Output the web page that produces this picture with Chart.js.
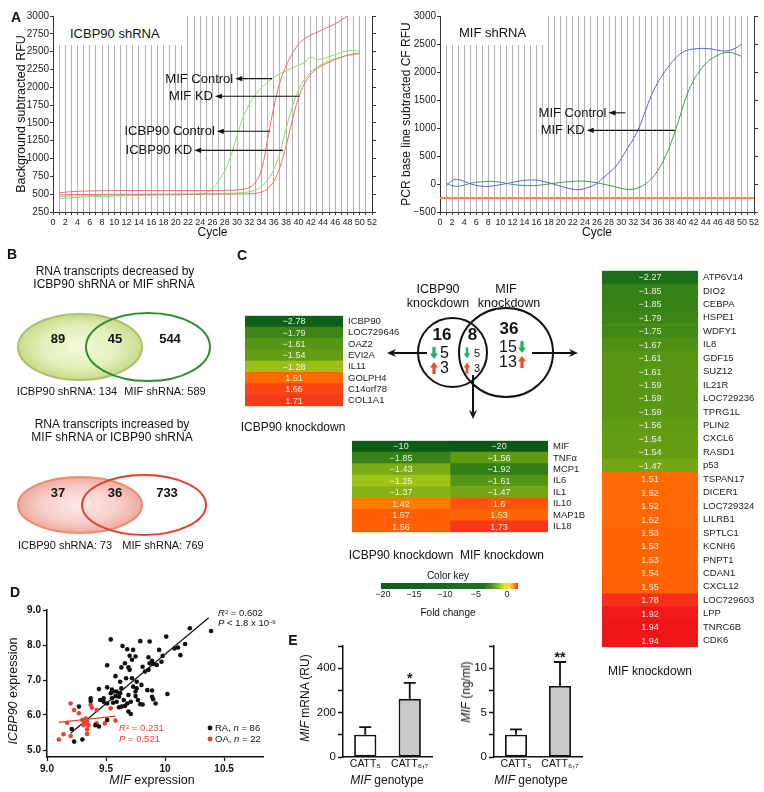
<!DOCTYPE html>
<html>
<head>
<meta charset="utf-8">
<title>ICBP90 / MIF figure</title>
<script src="https://cdn.jsdelivr.net/npm/chart.js@4.4.1/dist/chart.umd.min.js"></script>
<style>
html,body{margin:0;padding:0;background:#fff;}
#page{position:relative;width:764px;height:792px;overflow:hidden;font-family:'Liberation Sans',Arial,Helvetica,sans-serif;color:#111;}
#page canvas{position:absolute;}
.t{position:absolute;white-space:nowrap;line-height:1;}
.c{transform:translate(-50%,-50%);}
.l{transform:translate(0,-50%);}
.rot{transform:translate(-50%,-50%) rotate(-90deg);}
.letter{font-weight:bold;font-size:14px;}
.box{position:absolute;background:#fff;}
sup{font-size:0.62em;vertical-align:0.45em;line-height:0;}
</style>
</head>
<body>
<div id="page"></div>
<script>
// ================= DATA =================
// Panel A: qPCR amplification curves (cycle vs RFU)
const cycles = [1,2,3,4,5,6,7,8,9,10,11,12,13,14,15,16,17,18,19,20,21,22,23,24,25,26,27,28,29,30,31,32,33,34,35,36,37,38,39,40,41,42,43,44,45,46,47,48,49,50];
// ICBP90 shRNA plate
const mifCtrlL  = [440,445,450,455,460,463,466,469,472,475,477,479,481,483,485,486,487,488,489,490,492,494,497,505,525,580,690,830,1040,1320,1580,1760,1900,1995,2070,2140,2190,2230,2270,2310,2350,2420,2390,2400,2430,2460,2490,2510,2515,2510];
const mifKdL    = [470,472,474,476,478,480,482,484,486,488,489,490,491,492,493,494,495,496,497,498,499,500,501,502,504,506,508,511,514,518,524,535,560,610,700,850,1080,1420,1720,1960,2110,2210,2280,2330,2370,2400,2425,2445,2455,2460];
const icbpCtrlL = [520,528,535,540,543,545,547,548,549,550,551,552,552,552,552,551,550,550,550,550,550,550,550,550,550,551,552,553,555,560,570,595,665,850,1280,1720,2070,2300,2470,2600,2680,2730,2770,2810,2850,2890,2945,3000,null,null];
const icbpKdL   = [490,492,494,495,496,497,497,498,498,499,499,499,500,500,500,500,500,500,500,500,500,500,500,500,500,500,501,501,502,502,503,506,512,530,580,680,880,1180,1530,1850,2050,2180,2260,2310,2350,2390,2420,2450,2470,2480];
// MIF shRNA plate
const mifCtrlR  = [-40,60,80,45,5,-25,-40,-42,-30,-12,8,28,50,65,72,68,50,22,-8,-40,-70,-92,-100,-80,-40,10,110,200,300,450,630,800,1020,1300,1580,1800,1970,2120,2250,2340,2390,2410,2420,2420,2410,2390,2375,2385,2430,2500];
const mifKdR    = [20,-30,-40,-20,10,30,40,48,45,30,10,-8,-20,-28,-30,-25,-15,0,15,28,38,48,52,48,38,22,0,-25,-50,-75,-95,-90,-60,0,90,230,420,660,960,1300,1620,1850,2020,2150,2240,2300,2340,2350,2320,2280];
const thresholdR = -250;

// Panel B: Venn counts
const vennSetNames = ['ICBP90 shRNA','MIF shRNA'];
const vennDownCounts = [89,45,544];
const vennDownTotals = [134,589];
const vennUpCounts = [37,36,733];
const vennUpTotals = [73,769];

// Panel C: knockdown Venn + heatmaps (fold change)
const knockTotals = [16,8,36];
const knockDown = [5,5,15];
const knockUp = [3,3,13];
const icbpGenes = ['ICBP90','LOC729646','OAZ2','EVI2A','IL11','GOLPH4','C14orf78','COL1A1'];
const icbpFold  = [-2.78,-1.79,-1.61,-1.54,-1.28,1.51,1.66,1.71];
const sharedGenes = ['MIF','TNF\u03B1','MCP1','IL6','IL1','IL10','MAP1B','IL18'];
const sharedIcbpFold = [-10,-1.85,-1.43,-1.25,-1.37,1.42,1.57,1.56];
const sharedMifFold  = [-20,-1.56,-1.92,-1.61,-1.47,1.6,1.53,1.73];
const mifGenes = ['ATP6V14','DIO2','CEBPA','HSPE1','WDFY1','IL8','GDF15','SUZ12','IL21R','LOC729236','TPRG1L','PLIN2','CXCL6','RASD1','p53','TSPAN17','DICER1','LOC729324','LILRB1','SPTLC1','KCNH6','PNPT1','CDAN1','CXCL12','LOC729603','LPP','TNRC6B','CDK6'];
const mifFold  = [-2.27,-1.85,-1.85,-1.79,-1.75,-1.67,-1.61,-1.61,-1.59,-1.59,-1.59,-1.56,-1.54,-1.54,-1.47,1.51,1.52,1.52,1.52,1.53,1.53,1.53,1.54,1.55,1.78,1.92,1.94,1.94];
const keyRange = [-20.3, 1.77];
const keyTicks = [-20,-15,-10,-5,0];

// Panel D: expression scatter
const raMIF = [9.54,9.64,9.68,9.73,9.79,9.87,10.01,10.21,10.39,10.17,10.11,10.08,10.13,9.95,9.98,9.75,9.70,9.86,9.89,9.90,9.87,9.93,9.97,9.66,9.69,9.51,9.81,9.86,9.83,9.58,9.67,9.72,9.76,9.62,9.76,9.80,9.73,9.85,9.89,9.75,9.69,9.59,9.56,9.54,9.58,9.61,9.48,9.45,9.44,9.48,9.56,9.61,9.66,9.68,9.71,9.75,9.77,9.79,9.81,9.65,9.89,9.90,9.92,10.02,9.69,9.71,9.63,9.37,9.37,9.51,9.27,9.51,9.44,9.41,9.21,9.30,9.23,9.59,9.55,9.51,9.55,9.63,9.70,9.72,9.63,9.62];
const raICBP90 = [8.16,7.97,7.88,7.86,8.11,8.10,8.24,8.48,8.40,8.03,7.93,7.90,7.71,7.86,7.69,7.67,7.69,7.65,7.55,7.46,7.48,7.43,7.52,7.48,7.36,7.42,7.38,7.29,7.24,7.11,7.05,7.05,6.95,6.95,6.76,6.86,6.81,6.71,6.70,6.67,6.57,6.67,6.67,6.62,6.54,6.52,6.48,6.43,6.74,6.38,6.35,6.22,6.26,6.33,6.38,6.54,6.43,6.31,6.30,6.43,6.52,6.45,6.33,6.60,6.10,6.03,6.24,6.48,6.40,6.33,6.24,5.86,5.67,5.71,5.60,5.30,5.24,6.38,6.48,6.79,6.73,6.76,7.29,7.58,7.36,6.62];
const oaMIF = [9.20,9.23,9.27,9.37,9.38,9.42,9.30,9.32,9.34,9.33,9.35,9.34,9.34,9.17,9.20,9.14,9.10,9.42,9.54,9.49,9.58,9.31];
const oaICBP90 = [6.33,6.14,6.05,6.29,6.21,6.14,5.86,5.76,5.83,5.90,5.71,5.59,5.46,5.78,5.40,5.45,5.30,5.76,6.19,5.76,5.84,5.71];
const raFitX = [9.20,10.37], raFitY = [5.48,8.78];
const oaFitX = [9.10,9.58], oaFitY = [5.79,5.97];
const dXTicks = [9.0,9.5,10,10.5], dXLabels = ['9.0','9.5','10','10.5'];
const dYTicks = [5,6,7,8,9], dYLabels = ['5.0','6.0','7.0','8.0','9.0'];

// Panel E: genotype bars
const genotypes = ['CATT\u2085','CATT\u2086,\u2087'];
const mrnaMean = [100,262], mrnaErr = [35,72], mrnaSig = ['','*'];
const serumMean = [2.5,8.0], serumErr = [0.6,2.7], serumSig = ['','**'];

// ================= HELPERS =================
const FONT = "'Liberation Sans', Arial, Helvetica, sans-serif";
Chart.defaults.font.family = FONT;
Chart.defaults.color = '#111';
Chart.defaults.animation = false;
Chart.defaults.responsive = false;
Chart.defaults.plugins.legend.display = false;
Chart.defaults.plugins.tooltip.enabled = false;

const page = document.getElementById('page');
function mkCanvas(l,t,w,h){
  const c = document.createElement('canvas');
  c.width = w; c.height = h;
  c.style.left = l+'px'; c.style.top = t+'px'; c.style.width = w+'px'; c.style.height = h+'px';
  page.appendChild(c); return c;
}
function txt(html,x,y,cls,css){
  const d = document.createElement('div');
  d.className = 't ' + (cls || 'c');
  d.style.left = x+'px'; d.style.top = y+'px';
  if (css) d.style.cssText += css;
  d.innerHTML = html; page.appendChild(d); return d;
}
function box(l,t,w,h){
  const d = document.createElement('div'); d.className='box';
  d.style.left=l+'px'; d.style.top=t+'px'; d.style.width=w+'px'; d.style.height=h+'px';
  page.appendChild(d);
}
const fmt = v => (v < 0 ? '\u2212' : '') + String(Math.abs(v));
const xy = (xs, ys) => xs.map((x,i) => ({x, y: ys[i]}));
const fixW = w => s => { s.width = w; };
const fixH = h => s => { s.height = h; };

function heatColor(v){
  const stops = [[-20,[12,88,24]],[-2.8,[14,96,26]],[-2.2,[30,112,24]],[-1.8,[58,132,22]],[-1.6,[88,150,20]],[-1.5,[108,162,20]],[-1.4,[128,174,20]],[-1.25,[160,196,22]],
                 [1.4,[255,128,0]],[1.5,[255,108,0]],[1.56,[255,95,5]],[1.62,[252,80,15]],[1.7,[246,60,25]],[1.8,[244,45,25]],[1.95,[238,20,25]]];
  const grp = stops.filter(s => (v < 0) === (s[0] < 0));
  if (v <= grp[0][0]) return 'rgb('+grp[0][1].join(',')+')';
  for (let i=1;i<grp.length;i++){
    if (v <= grp[i][0]){
      const a = grp[i-1], b = grp[i], f = (v-a[0])/(b[0]-a[0]);
      return 'rgb('+a[1].map((c,k)=>Math.round(c+(b[1][k]-c)*f)).join(',')+')';
    }
  }
  return 'rgb('+grp[grp.length-1][1].join(',')+')';
}

// arrow annotations for qPCR plots
const arrowPlugin = {
  id:'arrows',
  afterDatasetsDraw(chart, args, opts){
    const {ctx} = chart, x = chart.scales.x, y = chart.scales.y;
    (opts.items||[]).forEach(a => {
      const x1 = x.getPixelForValue(a.from), x2 = x.getPixelForValue(a.to), yy = y.getPixelForValue(a.y);
      ctx.save();
      ctx.strokeStyle = '#111'; ctx.fillStyle = '#111'; ctx.lineWidth = 1.1;
      ctx.beginPath(); ctx.moveTo(x1, yy); ctx.lineTo(x2+5, yy); ctx.stroke();
      ctx.beginPath(); ctx.moveTo(x2, yy); ctx.lineTo(x2+7, yy-2.6); ctx.lineTo(x2+7, yy+2.6); ctx.closePath(); ctx.fill();
      ctx.font = '13px ' + FONT; ctx.textAlign = 'right'; ctx.textBaseline = 'middle';
      ctx.fillText(a.text, x2-2, yy+0.5);
      ctx.restore();
    });
  }
};

function qpcr(canvas, o){
  return new Chart(canvas, {
    type:'line',
    data:{datasets:o.datasets},
    options:{
      layout:{padding:{left:o.padLeft, top:16, right:o.padRight, bottom:0}},
      scales:{
        x:{type:'linear', min:0, max:52,
           ticks:{stepSize:1, autoSkip:false, maxRotation:0, font:{size:9}, padding:2, color:'#222', callback:v => (v%2===0 ? String(v) : '')},
           grid:{color:'rgba(0,0,0,0.3)', lineWidth:1, tickLength:3, tickColor:'#444'},
           border:{color:'#333', width:1},
           title:{display:true, text:'Cycle', font:{size:12}, padding:{top:0,bottom:0}, color:'#111'},
           afterFit:fixH(28)},
        y:{min:o.ymin, max:o.ymax,
           ticks:{stepSize:o.ystep, font:{size:10}, padding:1, color:'#222', callback:v => String(v).replace('-', '\u2212')},
           grid:{drawOnChartArea:false, tickLength:3, tickColor:'#333'},
           border:{color:'#333', width:1},
           title:{display:true, text:o.title, font:{size:o.titleSize}, padding:{top:0,bottom:0}, color:'#111'},
           afterFit:fixW(o.yW)},
        yR:{position:'right', min:o.ymin, max:o.ymax,
           ticks:{display:false, stepSize:o.ystep},
           grid:{drawOnChartArea:false, tickLength:4, tickColor:'#333'},
           border:{color:'#333', width:1},
           afterFit:fixW(4)}
      },
      plugins:{arrows:{items:o.arrows}}
    },
    plugins:[arrowPlugin]
  });
}
const curve = (ys, color, lw) => ({data: xy(cycles, ys), borderColor: color, borderWidth: lw || 1, pointRadius: 0, tension: 0.4, fill: false});

// ================= PANEL A =================
const RED = '#e8706a', LGREEN = '#8ad96c';
qpcr(mkCanvas(0,0,380,240), {
  ymin:250, ymax:3000, ystep:250, title:'Background subtracted RFU', titleSize:12.5, padLeft:14, yW:39, padRight:4,
  datasets:[curve(icbpCtrlL,RED), curve(icbpKdL,RED), curve(mifCtrlL,LGREEN), curve(mifKdL,LGREEN)],
  arrows:[
    {text:'MIF Control', from:35.7, to:29.7, y:2121},
    {text:'MIF KD', from:40.2, to:26.4, y:1873},
    {text:'ICBP90 Control', from:35.4, to:26.7, y:1382},
    {text:'ICBP90 KD', from:37.5, to:23.0, y:1115}
  ]
});
qpcr(mkCanvas(382,0,382,240), {
  ymin:-500, ymax:3000, ystep:500, title:'PCR base line subtracted CF RFU', titleSize:12, padLeft:17, yW:41, padRight:6,
  datasets:[
    {data:[{x:0,y:thresholdR},{x:52,y:thresholdR}], borderColor:'#f6884e', borderWidth:2, pointRadius:0},
    curve(mifKdR,'#3f9a45'), curve(mifCtrlR,'#5a5ae6')
  ],
  arrows:[
    {text:'MIF Control', from:30.7, to:27.9, y:1271},
    {text:'MIF KD', from:38.9, to:24.3, y:958}
  ]
});
box(54,16,129,29); txt('ICBP90 shRNA', 70, 33, 'l', 'font-size:13px;');
box(441,16,104,29); txt('MIF shRNA', 459, 32, 'l', 'font-size:13px;');

// ================= PANEL C heatmaps =================
const cellText = {
  id:'cellText',
  afterDatasetsDraw(chart){
    const ctx = chart.ctx;
    chart.data.datasets.forEach((ds,di) => {
      chart.getDatasetMeta(di).data.forEach((bar,i) => {
        const p = bar.getProps(['x','y','base'], true);
        ctx.save();
        ctx.fillStyle = 'rgba(255,255,255,0.9)'; ctx.font = '9px ' + FONT;
        ctx.textAlign = 'center'; ctx.textBaseline = 'middle';
        ctx.fillText(fmt(ds.values[i]), (p.x + p.base)/2, p.y + 0.5);
        ctx.restore();
      });
    });
  }
};
function heat(canvas, genes, cols, labelW){
  return new Chart(canvas, {
    type:'bar',
    data:{labels:genes, datasets:cols.map((vals,ci) => ({
      data: vals.map(() => [ci, ci+1]), values: vals,
      backgroundColor: vals.map(heatColor), borderWidth:0,
      barPercentage:1, categoryPercentage:1, grouped:false
    }))},
    options:{
      indexAxis:'y',
      layout:{padding:0},
      scales:{
        x:{display:false, min:0, max:cols.length},
        y:{position:'right', grid:{drawOnChartArea:false, drawTicks:false}, border:{display:false},
           ticks:{font:{size:9.5}, color:'#222', padding:5, autoSkip:false}, afterFit:fixW(labelW)}
      }
    },
    plugins:[cellText]
  });
}
heat(mkCanvas(245,305,163,112), icbpGenes, [icbpFold], 65);
heat(mkCanvas(352,430,240,113), sharedGenes, [sharedIcbpFold, sharedMifFold], 44);
heat(mkCanvas(602,260,162,398), mifGenes, [mifFold], 66);

// colour key
new Chart(mkCanvas(370,578,155,24), {
  type:'bar',
  data:{labels:['key'], datasets:[{
    data:[keyRange], borderWidth:0, barPercentage:1, categoryPercentage:1,
    backgroundColor:(c) => {
      const ca = c.chart.chartArea; if (!ca) return '#2a7a20';
      const g = c.chart.ctx.createLinearGradient(ca.left,0,ca.right,0);
      g.addColorStop(0,'#0d5c1a'); g.addColorStop(0.74,'#1f7420'); g.addColorStop(0.8,'#3a8e22');
      g.addColorStop(0.86,'#8cc21e'); g.addColorStop(0.905,'#e8e82a'); g.addColorStop(0.94,'#ffd83a');
      g.addColorStop(0.97,'#ff9020'); g.addColorStop(1,'#ff3020');
      return g;
    }
  }]},
  options:{
    indexAxis:'y', layout:{padding:{left:11,right:7,top:5,bottom:0}},
    scales:{
      x:{type:'linear', min:keyRange[0], max:keyRange[1], afterBuildTicks:s => { s.ticks = keyTicks.map(v => ({value:v})); },
         ticks:{font:{size:9}, padding:0, color:'#222', callback:v => fmt(v)},
         grid:{display:false, drawTicks:false, tickLength:0}, border:{display:false}, afterFit:fixH(13)},
      y:{display:false}
    }
  }
});

// ================= PANEL D =================
const dLegend = {
  id:'dLegend',
  afterDraw(chart, a, opts){
    const ctx = chart.ctx;
    opts.items.forEach(it => { ctx.beginPath(); ctx.arc(it.x, it.y, 2.4, 0, Math.PI*2); ctx.fillStyle = it.color; ctx.fill(); });
  }
};
const OA_RED = '#e8432c';
new Chart(mkCanvas(0,595,280,197), {
  type:'scatter',
  data:{datasets:[
    {data:xy(raMIF, raICBP90), backgroundColor:'#111', borderWidth:0, pointRadius:2.3},
    {data:xy(oaMIF, oaICBP90), backgroundColor:OA_RED, borderWidth:0, pointRadius:2.3},
    {type:'line', data:xy(raFitX, raFitY), borderColor:'#111', borderWidth:1.2, pointRadius:0},
    {type:'line', data:xy(oaFitX, oaFitY), borderColor:OA_RED, borderWidth:1.2, pointRadius:0}
  ]},
  options:{
    layout:{padding:{left:0, top:15, right:17, bottom:0}},
    scales:{
      x:{type:'linear', min:9.0, max:10.83, afterBuildTicks:s => { s.ticks = dXTicks.map(v => ({value:v})); },
         ticks:{font:{size:10, weight:'bold'}, color:'#111', padding:2, callback:(v,i) => dXLabels[i]},
         grid:{drawOnChartArea:false, tickLength:4, tickColor:'#111', tickWidth:1.2},
         border:{color:'#111', width:1.5}, afterFit:fixH(35)},
      y:{type:'linear', min:4.8, max:9.0, afterBuildTicks:s => { s.ticks = dYTicks.map(v => ({value:v})); },
         ticks:{font:{size:10, weight:'bold'}, color:'#111', padding:2, callback:(v,i) => dYLabels[i]},
         grid:{drawOnChartArea:false, tickLength:4, tickColor:'#111', tickWidth:1.2},
         border:{color:'#111', width:1.5}, afterFit:fixW(47)}
    },
    plugins:{dLegend:{items:[{x:210, y:133, color:'#111'},{x:210, y:144, color:OA_RED}]}}
  },
  plugins:[dLegend]
});

// ================= PANEL E =================
const errPlugin = {
  id:'err',
  afterDatasetsDraw(chart){
    const ctx = chart.ctx, ds = chart.data.datasets[0], ys = chart.scales.y;
    chart.getDatasetMeta(0).data.forEach((bar,i) => {
      const top = ys.getPixelForValue(ds.data[i] + ds.err[i]);
      ctx.save(); ctx.strokeStyle = '#111'; ctx.lineWidth = 1.8;
      ctx.beginPath(); ctx.moveTo(bar.x, bar.y); ctx.lineTo(bar.x, top);
      ctx.moveTo(bar.x-6, top); ctx.lineTo(bar.x+6, top); ctx.stroke();
      if (ds.sig[i]) {
        ctx.fillStyle = '#111'; ctx.font = 'bold 14px ' + FONT; ctx.textAlign = 'center'; ctx.textBaseline = 'bottom';
        ctx.fillText(ds.sig[i], bar.x, top + 3);
      }
      ctx.restore();
    });
  }
};
function genoBar(canvas, mean, err, sig, max, step, labelStep, yW){
  return new Chart(canvas, {
    type:'bar',
    data:{labels:genotypes, datasets:[{data:mean, err, sig, backgroundColor:['#ffffff','#c9c9c9'],
      borderColor:'#111', borderWidth:1.8, borderSkipped:false, barPercentage:0.5, categoryPercentage:1}]},
    options:{
      layout:{padding:{left:0, top:11, right:8, bottom:0}},
      scales:{
        x:{grid:{drawOnChartArea:false, drawTicks:false}, border:{color:'#111', width:1.5},
           ticks:{font:{size:10.5}, color:'#111', padding:1}, afterFit:fixH(35)},
        y:{min:0, max:max, ticks:{stepSize:step, font:{size:11.5}, color:'#111', padding:2,
             callback:v => (Math.abs(v/labelStep - Math.round(v/labelStep)) < 1e-9 ? String(v) : '')},
           grid:{drawOnChartArea:false, tickLength:5, tickColor:'#111', tickWidth:1.5},
           border:{color:'#111', width:1.5}, afterFit:fixW(yW)}
      }
    },
    plugins:[errPlugin]
  });
}
genoBar(mkCanvas(290,635,150,157), mrnaMean, mrnaErr, mrnaSig, 500, 100, 200, 53);
genoBar(mkCanvas(440,635,150,157), serumMean, serumErr, serumSig, 12.5, 2.5, 5, 54);

// ================= PANELS B + C diagrams (overlay) =================
function blockArrow(ctx, cx, cy, up, color, w, h){
  const hw = w/2, sw = w*0.2, s = up ? -1 : 1;
  const tip = cy + s*h/2, base = cy - s*h/2, neck = tip - s*h*0.45;
  ctx.save(); ctx.fillStyle = color; ctx.beginPath();
  ctx.moveTo(cx-sw, base); ctx.lineTo(cx+sw, base); ctx.lineTo(cx+sw, neck); ctx.lineTo(cx+hw, neck);
  ctx.lineTo(cx, tip); ctx.lineTo(cx-hw, neck); ctx.lineTo(cx-sw, neck); ctx.closePath(); ctx.fill(); ctx.restore();
}
function lineArrow(ctx, x1, y1, x2, y2, lw, head){
  const a = Math.atan2(y2-y1, x2-x1), c = Math.cos(a), s = Math.sin(a);
  ctx.save(); ctx.strokeStyle = '#111'; ctx.fillStyle = '#111'; ctx.lineWidth = lw;
  ctx.beginPath(); ctx.moveTo(x1, y1); ctx.lineTo(x2 - c*head*0.7, y2 - s*head*0.7); ctx.stroke();
  ctx.beginPath(); ctx.moveTo(x2, y2);
  ctx.lineTo(x2 - head*c + head*0.45*s, y2 - head*s - head*0.45*c);
  ctx.lineTo(x2 - head*0.7*c, y2 - head*0.7*s);
  ctx.lineTo(x2 - head*c - head*0.45*s, y2 - head*s + head*0.45*c);
  ctx.closePath(); ctx.fill(); ctx.restore();
}
const diagramPlugin = {
  id:'diagram',
  afterDraw(chart, args, o){
    const ctx = chart.ctx, sx = chart.scales.x, sy = chart.scales.y;
    const X = v => sx.getPixelForValue(v), Y = v => sy.getPixelForValue(v);
    const RX = (c,r) => Math.abs(X(c+r) - X(c)), RY = (c,r) => Math.abs(Y(c+r) - Y(c));
    // Panel B Venns
    o.vennB.forEach(v => {
      const L = v.L, R = v.R;
      const lrx = RX(L.cx, L.rx), lry = RY(v.cy, L.ry);
      ctx.save(); ctx.translate(X(L.cx), Y(v.cy)); ctx.scale(1, lry/lrx);
      const g = ctx.createRadialGradient(0,0,0,0,0,lrx);
      g.addColorStop(0, L.fill[0]); g.addColorStop(0.62, L.fill[1]); g.addColorStop(1, L.fill[2]);
      ctx.fillStyle = g; ctx.beginPath(); ctx.arc(0,0,lrx,0,Math.PI*2); ctx.fill(); ctx.restore();
      ctx.save(); ctx.lineWidth = 2;
      ctx.strokeStyle = L.stroke; ctx.beginPath(); ctx.ellipse(X(L.cx), Y(v.cy), lrx, lry, 0, 0, Math.PI*2); ctx.stroke();
      ctx.strokeStyle = R.stroke; ctx.beginPath(); ctx.ellipse(X(R.cx), Y(v.cy), RX(R.cx,R.rx), RY(v.cy,R.ry), 0, 0, Math.PI*2); ctx.stroke();
      ctx.fillStyle = '#111'; ctx.textAlign = 'center'; ctx.textBaseline = 'middle';
      ctx.font = 'bold 13px ' + FONT;
      v.counts.forEach((c,i) => ctx.fillText(String(c), X(v.numX[i]), Y(v.numY)));
      ctx.font = '11px ' + FONT;
      v.totals.forEach((t,i) => ctx.fillText(vennSetNames[i] + ': ' + t, X(v.totX[i]), Y(v.totY)));
      ctx.restore();
    });
    // Panel C Venn
    const vc = o.vennC;
    ctx.save(); ctx.strokeStyle = '#111'; ctx.lineWidth = 2;
    vc.circles.forEach(c => { ctx.beginPath(); ctx.ellipse(X(c.cx), Y(c.cy), RX(c.cx,c.rx), RY(c.cy,c.ry), 0, 0, Math.PI*2); ctx.stroke(); });
    ctx.fillStyle = '#111'; ctx.textAlign = 'center'; ctx.textBaseline = 'middle';
    ctx.font = 'bold 17px ' + FONT;
    knockTotals.forEach((t,i) => ctx.fillText(String(t), X(vc.totPos[i][0]), Y(vc.totPos[i][1])));
    vc.rows.forEach((r,i) => {
      ctx.font = r.font + 'px ' + FONT; ctx.fillStyle = '#111';
      ctx.fillText(String(knockDown[i]), X(r.nx), Y(r.dy)+0.5);
      ctx.fillText(String(knockUp[i]), X(r.nx), Y(r.uy)+0.5);
      blockArrow(ctx, X(r.ax), Y(r.dy), false, '#22b06a', r.aw, r.ah);
      blockArrow(ctx, X(r.ax), Y(r.uy), true, '#ee4a26', r.aw, r.ah);
    });
    ctx.restore();
    vc.arrows.forEach(a => lineArrow(ctx, X(a[0]), Y(a[1]), X(a[2]), Y(a[3]), 2, 9));
  }
};
new Chart(mkCanvas(0,0,764,792), {
  type:'scatter',
  data:{datasets:[]},
  options:{
    layout:{padding:0},
    scales:{x:{type:'linear', min:0, max:764, display:false}, y:{type:'linear', min:0, max:792, reverse:true, display:false}},
    plugins:{diagram:{
      vennB:[
        {counts:vennDownCounts, totals:vennDownTotals, cy:347, numY:339, totY:392, numX:[58,115,170], totX:[67,165],
         L:{cx:80, rx:62, ry:33, fill:['#f3f9dc','#e2f0ba','#c6dc8c'], stroke:'#adbf68'},
         R:{cx:148, rx:62, ry:34, stroke:'#2f8f2f'}},
        {counts:vennUpCounts, totals:vennUpTotals, cy:505, numY:493, totY:546, numX:[58,115,167], totX:[65,163],
         L:{cx:80, rx:62, ry:28, fill:['#fde9e7','#f7cfca','#eeab9f'], stroke:'#ea8c6e'},
         R:{cx:144, rx:62, ry:30, stroke:'#e0432b'}}
      ],
      vennC:{
        circles:[{cx:452.5, cy:352.5, rx:34.5, ry:34.5},{cx:506, cy:352.5, rx:47, ry:44.5}],
        totPos:[[442,335],[472.5,335],[509,329.5]],
        rows:[
          {ax:434, nx:444.5, dy:353, uy:368, font:16, aw:8, ah:12},
          {ax:467, nx:477, dy:353, uy:368, font:11, aw:6.5, ah:11},
          {ax:522, nx:508, dy:347, uy:362, font:16, aw:8, ah:12}
        ],
        arrows:[[427,353,387,353],[532,353,578,353],[473,375,473,419]]
      }
    }}
  },
  plugins:[diagramPlugin]
});

// ================= TEXT =================
txt('A', 16, 17, 'c letter');
txt('B', 12, 254, 'c letter');
txt('C', 242, 255, 'c letter');
txt('D', 15, 592, 'c letter');
txt('E', 293, 640, 'c letter');

txt('RNA transcripts decreased by', 115, 271, 'c', 'font-size:12px;');
txt('ICBP90 shRNA or MIF shRNA', 114, 283.5, 'c', 'font-size:12px;');
txt('RNA transcripts increased by', 112, 424, 'c', 'font-size:12px;');
txt('MIF shRNA or ICBP90 shRNA', 112, 436.5, 'c', 'font-size:12px;');

txt('ICBP90', 438, 289, 'c', 'font-size:12.5px;');
txt('knockdown', 438, 303, 'c', 'font-size:12.5px;');
txt('MIF', 506, 289, 'c', 'font-size:12.5px;');
txt('knockdown', 509, 303, 'c', 'font-size:12.5px;');
txt('ICBP90 knockdown', 293, 427, 'c', 'font-size:12px;');
txt('ICBP90 knockdown', 401, 555, 'c', 'font-size:12px;');
txt('MIF knockdown', 502, 555, 'c', 'font-size:12px;');
txt('MIF knockdown', 650, 671, 'c', 'font-size:12px;');
txt('Color key', 448, 576, 'c', 'font-size:10px;');
txt('Fold change', 448, 612.5, 'c', 'font-size:10px;');

txt('<i>ICBP90</i> expression', 13, 691, 'rot', 'font-size:12.5px;');
txt('<i>MIF</i> expression', 152, 780, 'c', 'font-size:12.5px;');
txt('<i>R</i><sup>2</sup> = 0.602', 218, 613, 'l', 'font-size:9.5px;');
txt('<i>P</i> &lt; 1.8 x 10<sup>\u20139</sup>', 218, 623, 'l', 'font-size:9.5px;');
txt('<i>R</i><sup>2</sup> = 0.231', 119, 728, 'l', 'font-size:9.5px;color:#e8432c;');
txt('<i>P</i> = 0.521', 119, 739, 'l', 'font-size:9.5px;color:#e8432c;');
txt('RA, <i>n</i> = 86', 215, 728, 'l', 'font-size:9.5px;');
txt('OA, <i>n</i> = 22', 215, 739, 'l', 'font-size:9.5px;');

txt('<i>MIF</i> mRNA (RU)', 305, 698, 'rot', 'font-size:12px;');
txt('<i>MIF</i> (ng/ml)', 466, 692, 'rot', 'font-size:12px;');
txt('<i>MIF</i> genotype', 387, 780, 'c', 'font-size:12px;');
txt('<i>MIF</i> genotype', 531, 780, 'c', 'font-size:12px;');
</script>
</body>
</html>
